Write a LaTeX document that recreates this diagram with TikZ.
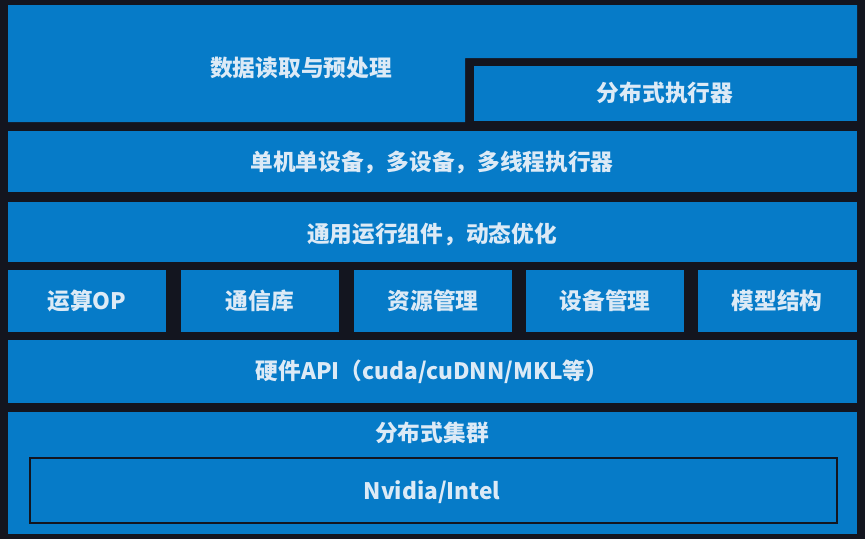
\documentclass[tikz,border=0pt]{standalone}
\usepackage{fontspec}
\newfontfamily\cjk{Noto Sans CJK SC}
\definecolor{bg}{HTML}{13151F}
\definecolor{boxblue}{HTML}{067BC8}
\definecolor{txt}{HTML}{DCEAF6}
\tikzset{
  blk/.style={fill=boxblue, draw=none},
  lbl/.style={text=txt, font=\cjk\bfseries\fontsize{22.7}{26}\selectfont, inner sep=0pt, anchor=center},
}
\begin{document}
\begin{tikzpicture}[x=1pt,y=-1pt]
\fill[bg] (0,0) rectangle (865,539);
\useasboundingbox (0,0) rectangle (865,539);
% top L-shape
\fill[boxblue] (8,5) -- (857,5) -- (857,58) -- (465,58) -- (465,122) -- (8,122) -- cycle;
\node[lbl] (data) at (301,68) {数据读取与预处理};
\fill[boxblue] (474,66) rectangle (857,121);
\node[lbl] (dexec) at (665,93) {分布式执行器};
% row 2
\fill[boxblue] (8,131) rectangle (857,192);
\node[lbl] (single) at (432,162) {单机单设备，多设备，多线程执行器};
% row 3
\fill[boxblue] (8,202) rectangle (857,262);
\node[lbl] (common) at (432,234) {通用运行组件，动态优化};
% row 4
\fill[boxblue] (8,270) rectangle (166,332);
\node[lbl] (op) at (87,301) {运算OP};
\fill[boxblue] (181,270) rectangle (339,332);
\node[lbl] (comm) at (260,301) {通信库};
\fill[boxblue] (354,270) rectangle (512,332);
\node[lbl] (res) at (433,301) {资源管理};
\fill[boxblue] (526,270) rectangle (684,332);
\node[lbl] (dev) at (605,301) {设备管理};
\fill[boxblue] (698,270) rectangle (857,332);
\node[lbl] (model) at (777,301) {模型结构};
% row 5
\fill[boxblue] (8,340) rectangle (857,403);
\node[lbl] (hw) at (432,372) {硬件API（cuda/cuDNN/MKL等）};
% row 6
\fill[boxblue] (8,412) rectangle (857,534);
\node[lbl] (cluster) at (432,433) {分布式集群};
\draw[bg, line width=1.5pt, fill=boxblue] (30,458) rectangle (837,523);
\node[lbl] (nv) at (432,492) {Nvidia/Intel};
\end{tikzpicture}
\end{document}
